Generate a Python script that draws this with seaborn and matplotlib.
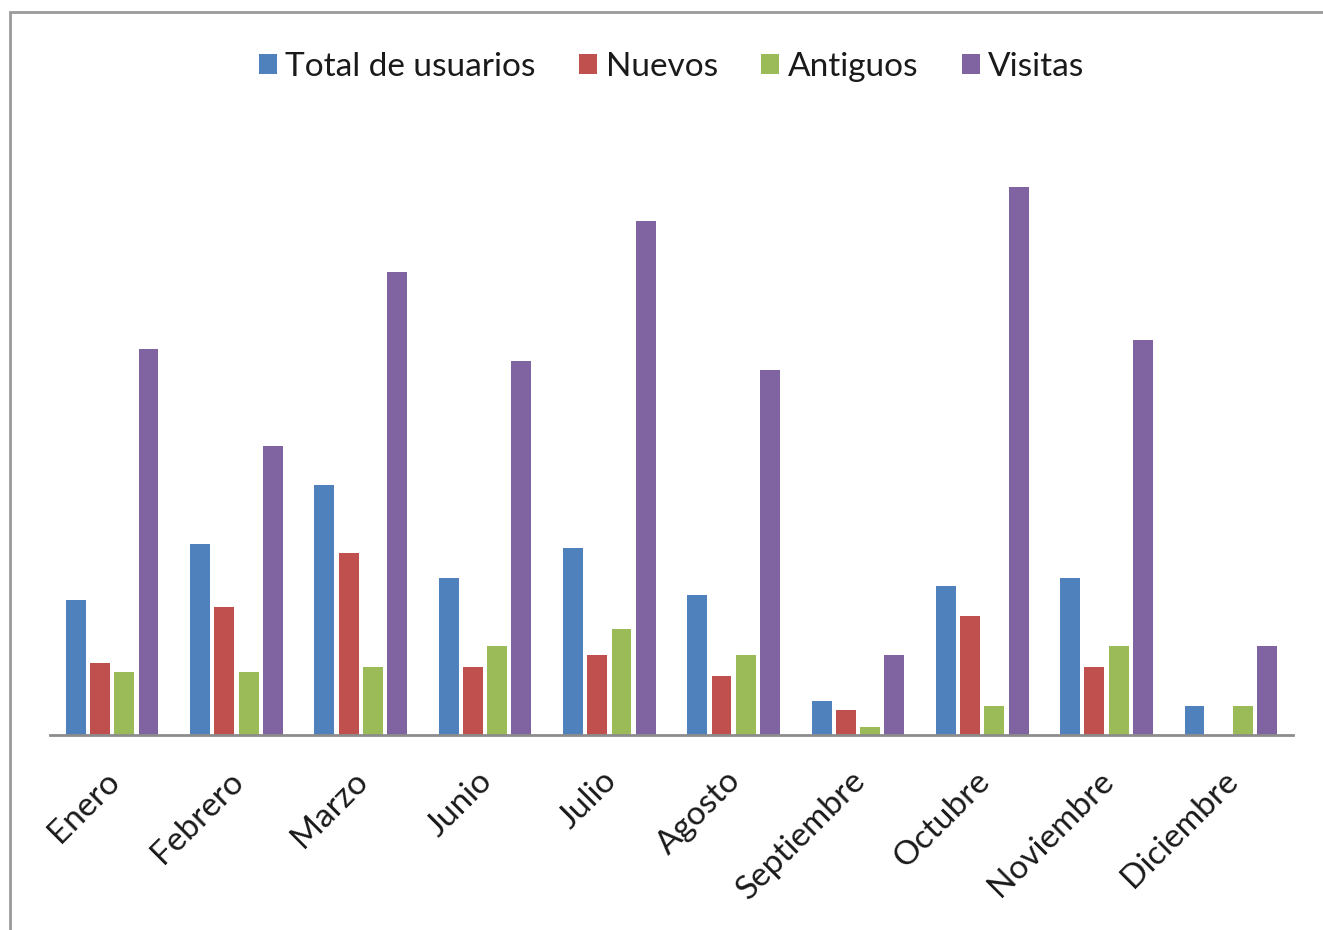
import pandas as pd
import seaborn as sns
import matplotlib.pyplot as plt
from matplotlib.patches import Rectangle
from matplotlib.transforms import ScaledTranslation

# Values (no y axis shown, arbitrary units)
meses = ['Enero', 'Febrero', 'Marzo', 'Junio', 'Julio', 'Agosto',
         'Septiembre', 'Octubre', 'Noviembre', 'Diciembre']
total_usuarios = [135, 191, 250, 157, 187, 140, 34, 149, 157, 29]
nuevos = [72, 128, 182, 68, 80, 59, 25, 119, 68, 0]
antiguos = [63, 63, 68, 89, 106, 80, 8, 29, 89, 29]
visitas = [386, 289, 463, 374, 514, 365, 80, 548, 395, 89]

series = ['Total de usuarios', 'Nuevos', 'Antiguos', 'Visitas']
colores = ['#4F81BD', '#C0504D', '#9BBB59', '#8064A2']

df = pd.DataFrame({'mes': meses, series[0]: total_usuarios, series[1]: nuevos,
                   series[2]: antiguos, series[3]: visitas})
long_df = df.melt(id_vars='mes', var_name='serie', value_name='valor')

sns.set_theme(style="white")
plt.rcParams['font.family'] = ['Lato', 'DejaVu Sans']

fig = plt.figure(figsize=(13.23, 9.30), dpi=100)
ax = fig.add_axes([50 / 1323, 1 - 735 / 930, 1243 / 1323, 600 / 930])

sns.barplot(data=long_df, x='mes', y='valor', hue='serie', hue_order=series,
            palette=colores, width=0.78, gap=0.18, saturation=1,
            edgecolor='none', ax=ax)

ax.set_ylim(0, 600)
ax.set_xlim(-0.5, len(meses) - 0.5)
ax.set_xlabel('')
ax.set_ylabel('')
ax.set_yticks([])
for side in ['top', 'right', 'left']:
    ax.spines[side].set_visible(False)
ax.spines['bottom'].set_color('#8c8c8c')
ax.spines['bottom'].set_linewidth(2)
ax.tick_params(axis='x', length=0, pad=22)
# nudge the rotated month labels a little to the left, like the original
shift = ScaledTranslation(-8 / 100, 0, fig.dpi_scale_trans)
for lbl in ax.get_xticklabels():
    lbl.set_rotation(45)
    lbl.set_ha('right')
    lbl.set_rotation_mode('anchor')
    lbl.set_fontsize(24)
    lbl.set_color('#1a1a1a')
    lbl.set_transform(lbl.get_transform() + shift)

ax.legend(loc='center', bbox_to_anchor=(0.5, 1 + (135 - 67) / 600), ncol=4,
          frameon=False, fontsize=24, handlelength=0.55, handleheight=0.55,
          handletextpad=0.25, columnspacing=1.3, labelcolor='#1a1a1a')

# outer chart frame
fig.patches.append(Rectangle((10 / 1323, -0.1), 1.2, 1 - 12 / 930 + 0.1,
                             transform=fig.transFigure, fill=False,
                             edgecolor='#9a9a9a', linewidth=2))

fig.savefig('out.png', dpi=100)
